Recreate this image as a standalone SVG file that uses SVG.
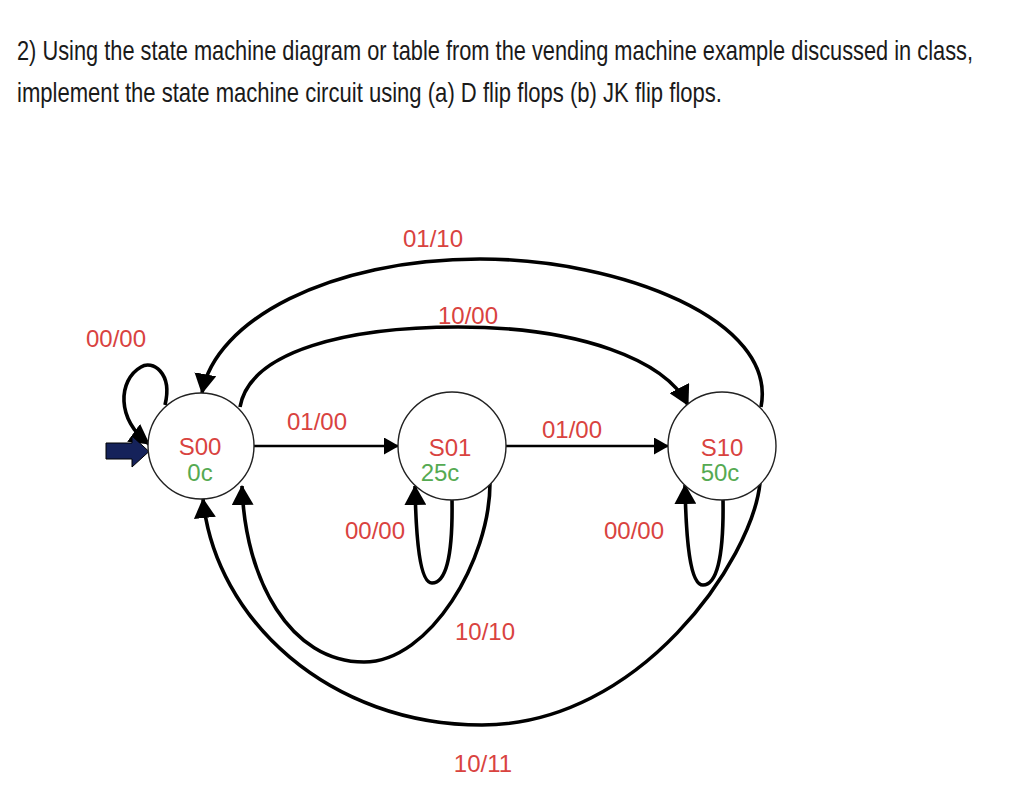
<svg xmlns="http://www.w3.org/2000/svg" width="1024" height="799" viewBox="0 0 1024 799">
<style>
.title{font-family:"Liberation Sans",Arial,sans-serif;font-size:28px;fill:#1a1a1a}
.lbl{font-family:"Liberation Sans",Arial,sans-serif;font-size:24px;fill:#d9433f;text-anchor:middle}
.st{font-family:"Liberation Sans",Arial,sans-serif;font-size:24px;fill:#d9433f;text-anchor:middle}
.val{font-family:"Liberation Sans",Arial,sans-serif;font-size:24px;fill:#55aa52;text-anchor:middle}
.node circle{fill:#fff;stroke:#222;stroke-width:1.4}
.curve{fill:none;stroke:#000;stroke-width:3.6;marker-end:url(#big)}
.straight{fill:none;stroke:#000;stroke-width:2.6;marker-end:url(#small)}
</style>
<defs>
<marker id="big" markerUnits="userSpaceOnUse" viewBox="0 0 20 22" markerWidth="20" markerHeight="22" refX="19" refY="11" orient="auto">
<path d="M0,0 L20,11 L0,22 z" fill="#000"/>
</marker>
<marker id="small" markerUnits="userSpaceOnUse" viewBox="0 0 15 17" markerWidth="15" markerHeight="17" refX="14" refY="8.5" orient="auto">
<path d="M0,0 L15,8.5 L0,17 z" fill="#000"/>
</marker>
</defs>
<rect width="1024" height="799" fill="#fff"/>
<text class="title" x="17" y="60" textLength="956" lengthAdjust="spacingAndGlyphs">2) Using the state machine diagram or table from the vending machine example discussed in class,</text>
<text class="title" x="17" y="102" textLength="705" lengthAdjust="spacingAndGlyphs">implement the state machine circuit using (a) D flip flops (b) JK flip flops.</text>
<g id="connectors">
<path class="curve" d="M761,407 C778,320 620,259 480,259 C330,259 215,320 202,393"/>
<path class="curve" d="M240,407 C250,350 350,327 458,327 C580,327 665,360 688,405"/>
<path class="curve" d="M165,405 C173,372 152,360 141,367 C118,380 116,420 149,444"/>
<path class="straight" d="M254,446 L398,446"/>
<path class="straight" d="M506,446 L668,446"/>
<path class="curve" d="M452,499 C453,560 445,583 432,583 C420,583 416,540 415,486"/>
<path class="curve" d="M723,499 C724,560 716,585 703,585 C690,585 686,540 685,485"/>
<path class="curve" d="M490,483 C490,560 430,662 364,662 C290,662 245,580 242,486"/>
<path class="curve" d="M760,483 C752,560 640,725 482,725 C330,725 215,620 203,499"/>
<path id="init" d="M106,443 L132,443 L132,436 L149,451.5 L132,467 L132,459 L106,459 z" fill="#15225a" stroke="#000" stroke-width="1"/>
</g>
<g id="labels">
<text class="lbl" x="116" y="347">00/00</text>
<text class="lbl" x="433" y="247">01/10</text>
<text class="lbl" x="468" y="324">10/00</text>
<text class="lbl" x="317" y="430">01/00</text>
<text class="lbl" x="572" y="438">01/00</text>
<text class="lbl" x="375" y="539">00/00</text>
<text class="lbl" x="634" y="539">00/00</text>
<text class="lbl" x="485" y="640">10/10</text>
<text class="lbl" x="483" y="772">10/11</text>
</g>
<g id="S00" class="node">
<circle cx="201" cy="446" r="53"/>
<text class="st" x="200" y="455">S00</text>
<text class="val" x="200" y="481">0c</text>
</g>
<g id="S01" class="node">
<circle cx="452" cy="446" r="54"/>
<text class="st" x="450" y="456">S01</text>
<text class="val" x="440" y="481">25c</text>
</g>
<g id="S10" class="node">
<circle cx="722" cy="446" r="54"/>
<text class="st" x="722" y="456">S10</text>
<text class="val" x="720" y="481">50c</text>
</g>
</svg>
